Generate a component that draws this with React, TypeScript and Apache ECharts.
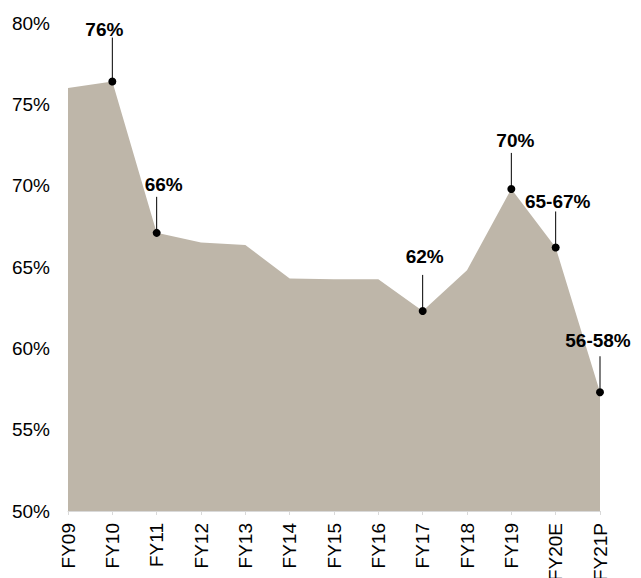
import React, { useEffect, useRef } from "react";
import * as echarts from "echarts";

const categories = ["FY09", "FY10", "FY11", "FY12", "FY13", "FY14", "FY15", "FY16", "FY17", "FY18", "FY19", "FY20E", "FY21P"];
const values = [76.0, 76.4, 67.1, 66.5, 66.35, 64.3, 64.25, 64.25, 62.3, 64.8, 69.8, 66.2, 57.3];
const yTicks = { min: 50, max: 80, interval: 5 };

const annotationIndex = [1, 2, 8, 10, 11, 12];
const annotationLabels = ["76%", "66%", "62%", "70%", "65-67%", "56-58%"];
// style: leader length (px), horizontal label shift (px), gap above leader (px)
const leaderLen = [44, 36, 36, 36, 36, 36];
const labelShift = [-8, 7, 2, 4, 2, -2];
const labelGap = [8, 12, 18, 12, 10, 16];

const FONT = "Liberation Sans, Arial, sans-serif";
const FS = 19;

export default function App() {
  const ref = useRef<HTMLDivElement>(null);
  useEffect(() => {
    if (!ref.current) return;
    const chart = echarts.init(ref.current, undefined, { renderer: "svg" });
    const annData = annotationIndex.map((idx, i) => [idx, values[idx], i]);
    chart.setOption({
      animation: false,
      grid: { left: 68, right: 41, top: 23, bottom: 67, containLabel: false, outerBoundsMode: "none" },
      xAxis: {
        type: "category",
        data: categories,
        boundaryGap: false,
        axisLine: { show: true, lineStyle: { color: "#d9d9d9", width: 1 } },
        axisTick: { show: true, length: 4, lineStyle: { color: "#d9d9d9" } },
        axisLabel: { rotate: 90, fontSize: FS, color: "#000", fontFamily: FONT, margin: 12, interval: 0 },
        splitLine: { show: false },
      },
      yAxis: {
        type: "value",
        min: yTicks.min,
        max: yTicks.max,
        interval: yTicks.interval,
        axisLine: { show: false },
        axisTick: { show: false },
        splitLine: { show: false },
        axisLabel: { formatter: "{value}%", fontSize: FS, color: "#000", fontFamily: FONT, margin: 18 },
      },
      series: [
        {
          type: "line",
          data: values,
          symbol: "none",
          lineStyle: { width: 0 },
          itemStyle: { color: "#BEB6A9" },
          areaStyle: { color: "#BEB6A9", opacity: 1 },
          z: 1,
        },
        {
          type: "custom",
          clip: false,
          z: 5,
          data: annData,
          renderItem: (params: any, api: any) => {
            const i = api.value(2);
            const p = api.coord([api.value(0), api.value(1)]);
            const top = p[1] - leaderLen[i];
            return {
              type: "group",
              children: [
                { type: "line", shape: { x1: p[0], y1: p[1], x2: p[0], y2: top }, style: { stroke: "#000", lineWidth: 1 } },
                { type: "circle", shape: { cx: p[0], cy: p[1], r: 4 }, style: { fill: "#000" } },
                {
                  type: "text",
                  x: p[0] + labelShift[i],
                  y: top - labelGap[i],
                  style: {
                    text: annotationLabels[i],
                    fill: "#000",
                    font: `bold ${FS}px ${FONT}`,
                    align: "center",
                    verticalAlign: "middle",
                  },
                },
              ],
            };
          },
        },
      ],
    });
    return () => chart.dispose();
  }, []);
  return <div ref={ref} style={{ width: 641, height: 578, position: "absolute", left: 0, top: 0 }} />;
}
